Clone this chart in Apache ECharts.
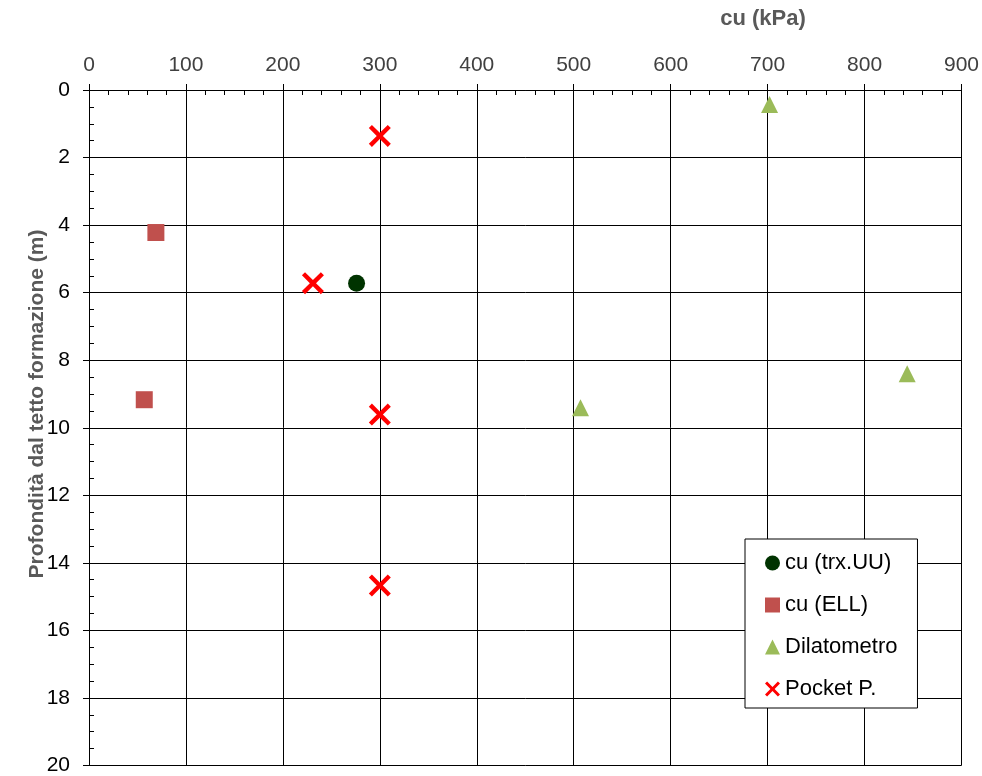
<!DOCTYPE html>
<html>
<head>
<meta charset="utf-8">
<script src="https://cdn.jsdelivr.net/npm/echarts@6/dist/echarts.min.js"></script>
<style>html,body{margin:0;padding:0;background:#fff}#c{width:982px;height:776px}</style>
</head>
<body>
<div id="c"></div>
<script>
// Data: [cu (kPa), depth (m)]
const trxUU = [[276, 5.72]];
const ell = [[69, 4.22], [57, 9.17]];
const dilatometro = [[702, 0.43], [507, 9.41], [844, 8.4]];
const pocketP = [[300, 1.36], [231, 5.72], [300, 9.61], [300, 14.67]];
const seriesNames = ['cu (trx.UU)', 'cu (ELL)', 'Dilatometro', 'Pocket P.'];
const xTitle = 'cu (kPa)';
const yTitle = 'Profondità dal tetto formazione (m)';

const xPath = 'path://M0,1.4 L1.4,0 L5,3.6 L8.6,0 L10,1.4 L6.4,5 L10,8.6 L8.6,10 L5,6.4 L1.4,10 L0,8.6 L3.6,5 Z';
const FONT = '"Liberation Sans", Arial, sans-serif';

const chart = echarts.init(document.getElementById('c'), null, {renderer: 'canvas'});
chart.setOption({
  animation: false,
  backgroundColor: '#fff',
  textStyle: {fontFamily: FONT},
  grid: {left: 89, right: 20, top: 90, bottom: 10, containLabel: false},
  graphic: [
    {type: 'text', x: 763, y: 19, style: {text: xTitle, font: 'bold 22px ' + FONT, fill: '#595959', align: 'center', verticalAlign: 'middle'}},
    {type: 'text', x: 37, y: 404, rotation: Math.PI / 2, style: {text: yTitle, font: 'bold 21px ' + FONT, fill: '#595959', align: 'center', verticalAlign: 'middle'}}
  ],
  legend: {
    orient: 'vertical', left: 745, top: 539,
    padding: [13, 20, 8, 20], itemGap: 20, itemWidth: 15, itemHeight: 15,
    borderColor: '#000', borderWidth: 1, backgroundColor: '#fff',
    textStyle: {fontSize: 22, lineHeight: 22, color: '#000', fontFamily: FONT},
    data: [
      {name: seriesNames[0], icon: 'circle'},
      {name: seriesNames[1], icon: 'rect'},
      {name: seriesNames[2], icon: 'triangle'},
      {name: seriesNames[3], icon: xPath}
    ]
  },
  xAxis: [{
    type: 'value', position: 'top', min: 0, max: 900, interval: 100,
    axisLine: {show: true, lineStyle: {color: '#000', width: 1}},
    axisTick: {show: true, length: 6, lineStyle: {color: '#000'}},
    axisLabel: {fontSize: 21, color: '#404040', margin: 14, fontFamily: FONT},
    splitLine: {show: true, lineStyle: {color: '#000', width: 1}}
  }, {
    type: 'value', position: 'top', min: 0, max: 900, interval: 100,
    axisLine: {show: false},
    axisTick: {show: false, inside: true},
    minorTick: {show: true, splitNumber: 5, length: 5, lineStyle: {color: '#000'}},
    axisLabel: {show: false},
    splitLine: {show: false}
  }],
  yAxis: [{
    type: 'value', inverse: true, min: 0, max: 20, interval: 2,
    axisLine: {show: true, lineStyle: {color: '#000', width: 1}},
    axisTick: {show: true, length: 6, lineStyle: {color: '#000'}},
    axisLabel: {fontSize: 21, color: '#000', margin: 19, fontFamily: FONT},
    splitLine: {show: true, lineStyle: {color: '#000', width: 1}}
  }, {
    type: 'value', inverse: true, min: 0, max: 20, interval: 2, position: 'left',
    axisLine: {show: false},
    axisTick: {show: false, inside: true},
    minorTick: {show: true, splitNumber: 4, length: 5, lineStyle: {color: '#000'}},
    axisLabel: {show: false},
    splitLine: {show: false}
  }],
  series: [
    {name: seriesNames[0], type: 'scatter', data: trxUU, symbol: 'circle', symbolSize: 17, itemStyle: {color: '#003300', opacity: 1}},
    {name: seriesNames[1], type: 'scatter', data: ell, symbol: 'rect', symbolSize: 17, itemStyle: {color: '#C0504D', opacity: 1}},
    {name: seriesNames[2], type: 'scatter', data: dilatometro, symbol: 'triangle', symbolSize: 17, itemStyle: {color: '#9BBB59', opacity: 1}},
    {name: seriesNames[3], type: 'scatter', data: pocketP, symbol: xPath, symbolSize: 22, itemStyle: {color: '#FF0000', opacity: 1}}
  ]
});
</script>
</body>
</html>
